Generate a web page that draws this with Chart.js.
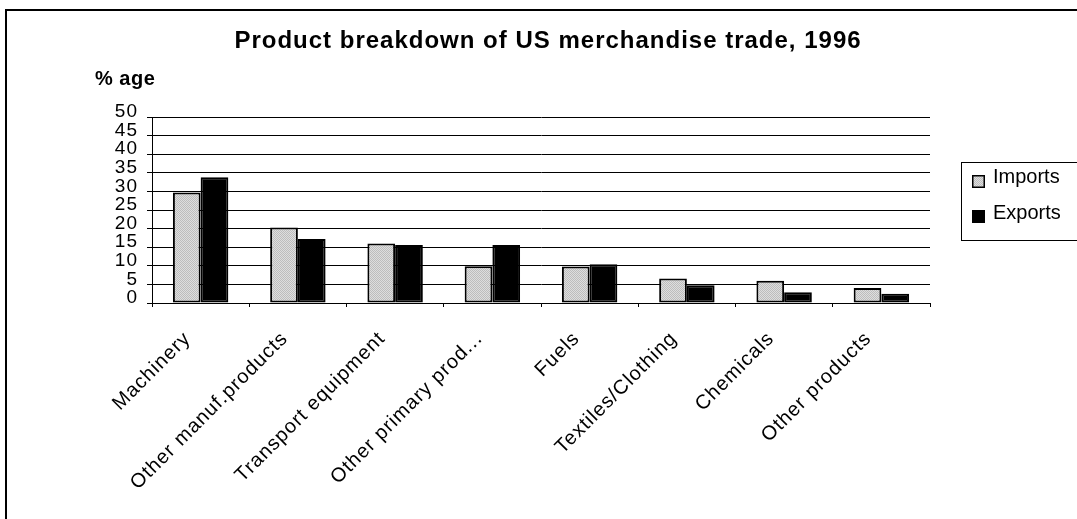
<!DOCTYPE html>
<html><head><meta charset="utf-8">
<script src="https://cdn.jsdelivr.net/npm/chart.js@4"></script>
<style>
html,body{margin:0;padding:0;background:#fff;overflow:hidden;width:1077px;height:519px;}
#frame{position:absolute;left:5px;top:9px;width:1200px;height:700px;border:2px solid #000;box-sizing:border-box;}
#wrap{position:absolute;left:0;top:0;width:1077px;height:519px;}
</style></head><body>
<div id="frame"></div>
<div id="wrap"><canvas id="c" width="1077" height="519"></canvas></div>
<script>
const titleText = 'Product breakdown of US merchandise trade, 1996';
const yAxisTitle = '% age';
const categories = ['Machinery','Other manuf.products','Transport equipment','Other primary prod...','Fuels','Textiles/Clothing','Chemicals','Other products'];
const seriesNames = ['Imports','Exports'];
const importsValues = [29.7, 20.3, 16.0, 9.9, 9.8, 6.6, 6.0, 4.0];
const exportsValues = [33.8, 17.2, 15.6, 15.6, 10.4, 4.8, 2.9, 2.5];
const yMin = 0, yMax = 50, yStep = 5;

const FONT = "'Liberation Sans', Arial, sans-serif";

// stippled light-gray fill for imports
const pc = document.createElement('canvas'); pc.width = 2; pc.height = 2;
const pctx = pc.getContext('2d');
pctx.fillStyle = '#dedede'; pctx.fillRect(0,0,2,2);
pctx.fillStyle = '#bdbdbd'; pctx.fillRect(0,0,1,1); pctx.fillRect(1,1,1,1);
const importsFill = document.getElementById('c').getContext('2d').createPattern(pc,'repeat');

const SP = '1px';
const spacingPlugin = {
  id: 'spacing',
  beforeUpdate(chart){ chart.ctx.letterSpacing = SP; },
  beforeLayout(chart){ chart.ctx.letterSpacing = SP; },
  beforeDraw(chart){ chart.ctx.letterSpacing = SP; }
};

const extrasPlugin = {
  id: 'extras',
  afterDraw(chart){
    const ca = chart.chartArea, ctx = chart.ctx;
    ctx.save();
    // axis caption
    ctx.letterSpacing = '0.5px';
    ctx.fillStyle = '#000';
    ctx.font = 'bold 20px ' + FONT;
    ctx.textAlign = 'left'; ctx.textBaseline = 'alphabetic';
    ctx.fillText(yAxisTitle, ca.left - 57, ca.top - 32);
    // legend
    ctx.letterSpacing = '0px';
    const lx = ca.right + 31, ly = ca.top + 45;
    ctx.strokeStyle = '#000'; ctx.lineWidth = 1;
    ctx.strokeRect(Math.round(lx) + 0.5, Math.round(ly) + 0.5, chart.width - lx + 20, 78);
    chart.data.datasets.forEach((ds, i) => {
      const y = Math.round(ly + 13 + i * 35);
      const x = Math.round(lx + 11);
      ctx.fillStyle = ds.backgroundColor; ctx.fillRect(x, y, 13, 13);
      ctx.lineWidth = 1.5; ctx.strokeStyle = '#000'; ctx.strokeRect(x + 0.75, y + 0.75, 11.5, 11.5);
      ctx.fillStyle = '#000'; ctx.font = '20px ' + FONT;
      ctx.fillText(ds.label, lx + 32, y + 8 + i);
    });
    ctx.restore();
  }
};

new Chart(document.getElementById('c'), {
  type: 'bar',
  data: {
    labels: categories,
    datasets: [
      { label: seriesNames[0], data: importsValues, backgroundColor: importsFill, borderColor: '#000', borderWidth: 2, borderSkipped: false, categoryPercentage: 0.57, barPercentage: 1.0 },
      { label: seriesNames[1], data: exportsValues, backgroundColor: '#000', borderColor: '#000', borderWidth: 2, borderSkipped: false, categoryPercentage: 0.57, barPercentage: 1.0 }
    ]
  },
  options: {
    responsive: false, animation: false, devicePixelRatio: 1,
    layout: { padding: { left: 19, right: 0, top: 0, bottom: 0 } },
    plugins: {
      legend: { display: false },
      tooltip: { enabled: false },
      title: { display: true, text: titleText, color: '#000', font: { family: FONT, size: 24, weight: 'bold' }, padding: { top: 27, bottom: 61.2 } }
    },
    scales: {
      x: {
        offset: true,
        grid: { display: true, drawOnChartArea: false, drawTicks: true, tickLength: 4, color: '#000', offset: true },
        border: { display: true, color: '#000', width: 1 },
        ticks: { color: '#000', font: { family: FONT, size: 20 }, minRotation: 45, maxRotation: 45, padding: 20, labelOffset: -13, autoSkip: false },
        afterFit(s){ s.height = 216; }
      },
      y: {
        min: yMin, max: yMax,
        ticks: { stepSize: yStep, autoSkip: false, color: '#000', font: { family: FONT, size: 19 }, padding: 9, labelOffset: -5 },
        grid: { color: '#000', lineWidth: 1, tickLength: 5, drawTicks: true },
        border: { display: true, color: '#000' },
        afterFit(s){ s.width = 133; }
      },
      y2: {
        position: 'right', display: true,
        grid: { display: false }, border: { display: false }, ticks: { display: false },
        afterFit(s){ s.width = 147; }
      }
    }
  },
  plugins: [spacingPlugin, extrasPlugin]
});
</script>
</body></html>
